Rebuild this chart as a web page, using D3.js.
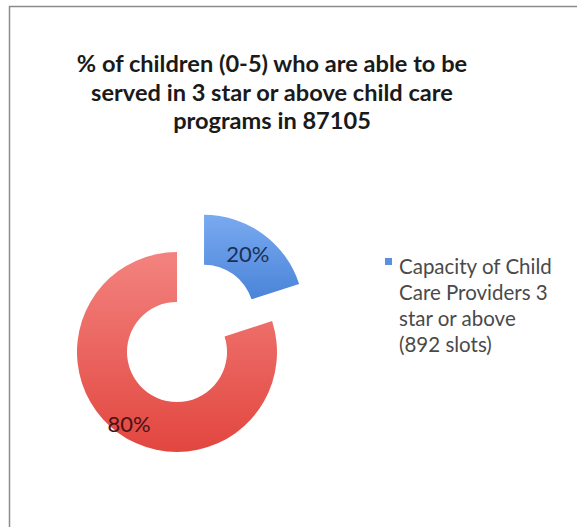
<!DOCTYPE html>
<html>
<head>
<meta charset="utf-8">
<script src="https://cdn.jsdelivr.net/npm/d3@7"></script>
<style>
  html, body { margin: 0; padding: 0; background: #fff; }
  svg { display: block; }
</style>
</head>
<body>
<svg id="chart" width="577" height="527"></svg>
<script>
// Share of children (0-5) served in 3-star-or-above programs, ZIP 87105
const titleLines = [
  "% of children (0-5) who are able to be",
  "served in 3 star or above child care",
  "programs in 87105"
];
const categories = ["Capacity of Child Care Providers 3 star or above (892 slots)", "Remaining"];
const values = [20, 80];
const valueLabels = ["20%", "80%"];
const legendLines = ["Capacity of Child", "Care Providers 3", "star or above", "(892 slots)"];

const svg = d3.select("#chart");
const W = 577, H = 527;

// Chart frame (only top and left edges fall inside the view)
svg.append("rect")
  .attr("x", 9.5).attr("y", 6.5)
  .attr("width", W + 20).attr("height", H + 20)
  .attr("fill", "#fff")
  .attr("stroke", "#8c8c8c")
  .attr("stroke-width", 1.5);

// Gradients for the two slices
const defs = svg.append("defs");
const grads = [
  { id: "gBlue", top: "#7aaaf0", bottom: "#4a84d8" },
  { id: "gRed", top: "#f3837f", bottom: "#e2463f" }
];
grads.forEach(g => {
  const lg = defs.append("linearGradient")
    .attr("id", g.id).attr("x1", 0).attr("y1", 0).attr("x2", 0).attr("y2", 1);
  lg.append("stop").attr("offset", "0%").attr("stop-color", g.top);
  lg.append("stop").attr("offset", "100%").attr("stop-color", g.bottom);
});

// Title
const title = svg.append("text")
  .attr("text-anchor", "middle")
  .attr("font-family", "Lato, 'Open Sans', sans-serif")
  .attr("font-weight", "bold")
  .attr("font-size", 23.6)
  .attr("fill", "#1a1a1a");
titleLines.forEach((t, i) => {
  title.append("tspan").attr("x", 272).attr("y", 72 + i * 28.5).text(t);
});

// Donut
const cx = 177, cy = 352;
const outerR = 100, innerR = 50;
const explode = 46;

const pie = d3.pie().sort(null).value(d => d);
const arcs = pie(values);
const arc = d3.arc().innerRadius(innerR).outerRadius(outerR);
const labelArc = d3.arc().innerRadius(78).outerRadius(78);

const colorScale = d3.scaleOrdinal().domain([0, 1]).range(["url(#gBlue)", "url(#gRed)"]);
const labelColor = d3.scaleOrdinal().domain([0, 1]).range(["#1c2f55", "#4a1212"]);

const g = svg.append("g").attr("transform", `translate(${cx},${cy})`);

const slices = g.selectAll("g.slice")
  .data(arcs)
  .join("g")
  .attr("class", "slice")
  .attr("transform", (d, i) => {
    if (i !== 0) return null;
    const mid = (d.startAngle + d.endAngle) / 2;
    return `translate(${Math.sin(mid) * explode},${-Math.cos(mid) * explode})`;
  });

slices.append("path")
  .attr("d", arc)
  .attr("fill", (d, i) => colorScale(i));

slices.append("text")
  .attr("transform", (d, i) => {
    const c = labelArc.centroid(d);
    return `translate(${c[0] - 2},${c[1] + (i === 1 ? 8 : 2)})`;
  })
  .attr("text-anchor", "middle")
  .attr("dominant-baseline", "central")
  .attr("font-family", "Lato, 'Open Sans', sans-serif")
  .attr("font-size", 22)
  .attr("fill", (d, i) => labelColor(i))
  .text((d, i) => valueLabels[i]);

// Legend (first series only)
const legend = svg.append("g");
legend.append("rect")
  .attr("x", 385).attr("y", 258)
  .attr("width", 7).attr("height", 7)
  .attr("fill", "#5b8fdf");
const lt = legend.append("text")
  .attr("font-family", "Lato, 'Open Sans', sans-serif")
  .attr("font-size", 20.5)
  .attr("fill", "#4a4a4a");
legendLines.forEach((t, i) => {
  lt.append("tspan").attr("x", 399).attr("y", 274 + i * 26).text(t);
});
</script>
</body>
</html>
